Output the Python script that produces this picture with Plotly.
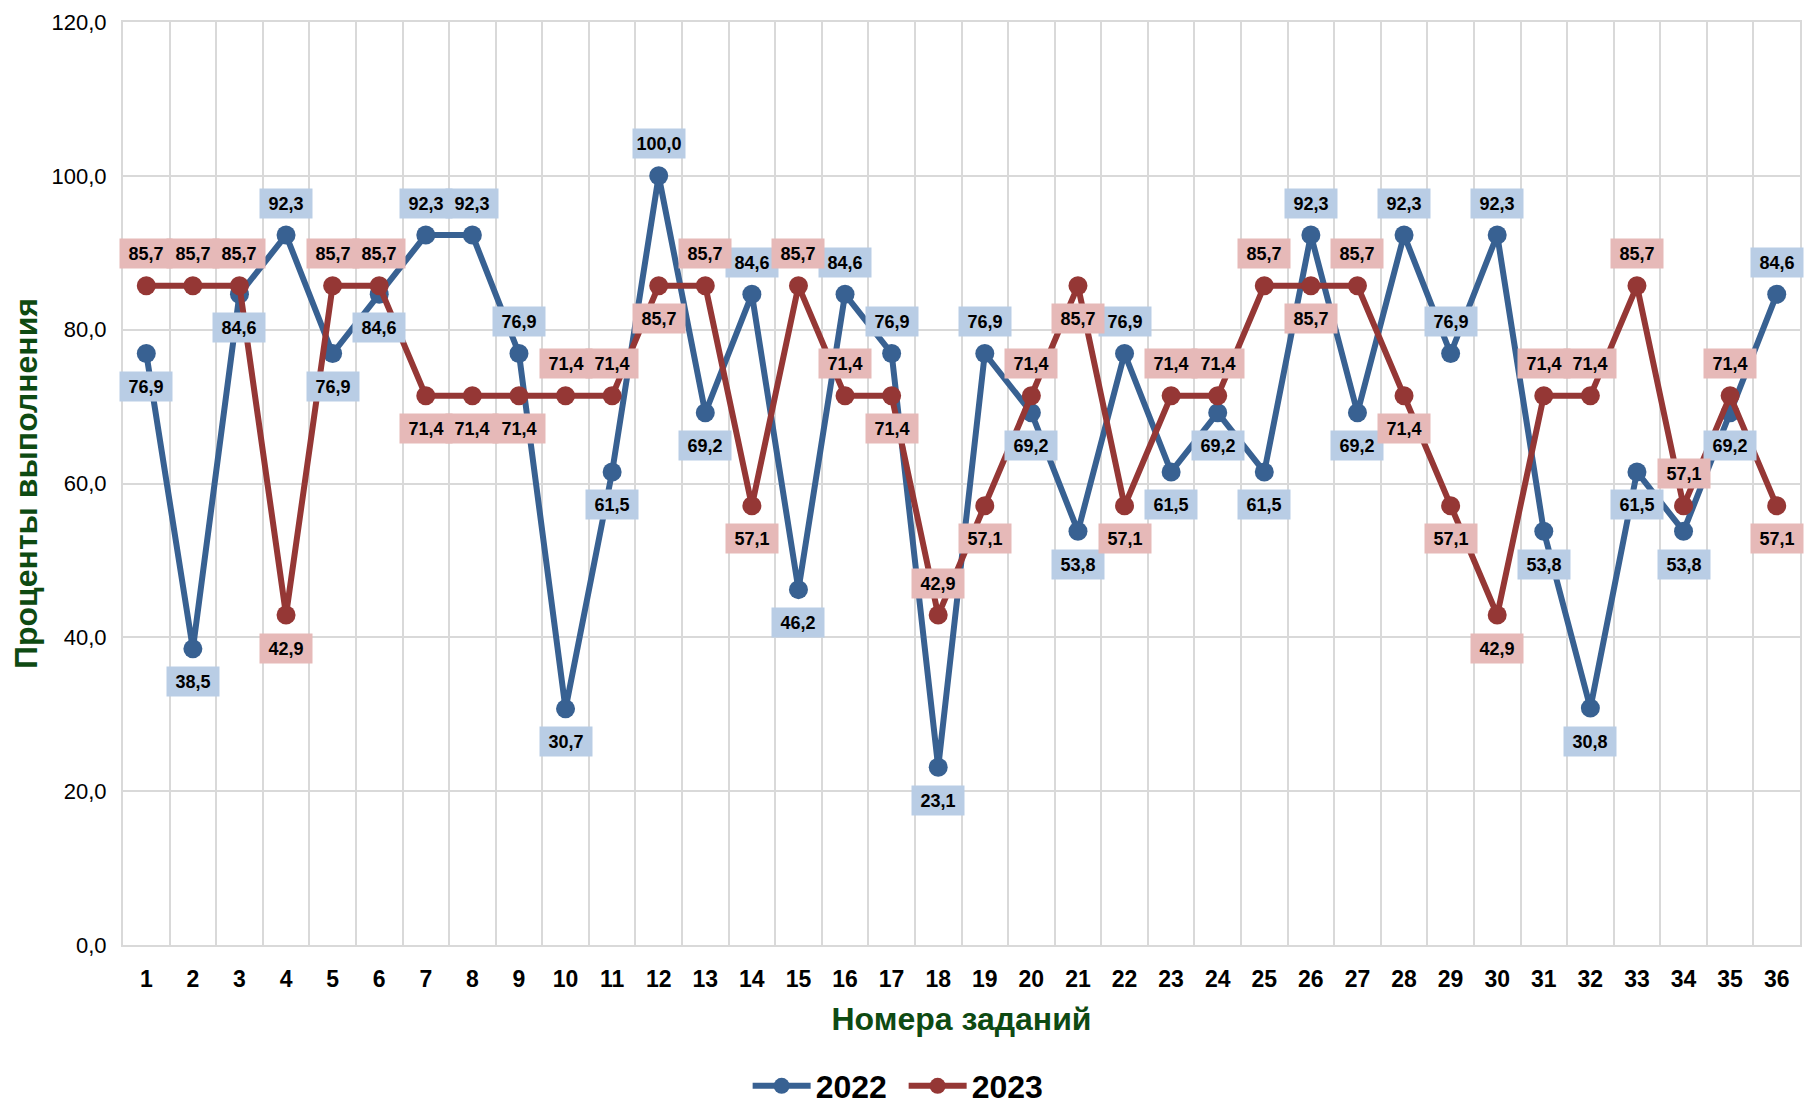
import plotly.graph_objects as go

tasks = list(range(1, 37))
y2022 = [76.9, 38.5, 84.6, 92.3, 76.9, 84.6, 92.3, 92.3, 76.9, 30.7, 61.5, 100.0,
         69.2, 84.6, 46.2, 84.6, 76.9, 23.1, 76.9, 69.2, 53.8, 76.9, 61.5, 69.2,
         61.5, 92.3, 69.2, 92.3, 76.9, 92.3, 53.8, 30.8, 61.5, 53.8, 69.2, 84.6]
y2023 = [85.7, 85.7, 85.7, 42.9, 85.7, 85.7, 71.4, 71.4, 71.4, 71.4, 71.4, 85.7,
         85.7, 57.1, 85.7, 71.4, 71.4, 42.9, 57.1, 71.4, 85.7, 57.1, 71.4, 71.4,
         85.7, 85.7, 85.7, 71.4, 57.1, 42.9, 71.4, 71.4, 85.7, 57.1, 71.4, 57.1]
# label placement: 'a' above the point, 'b' below
pos2022 = list("bbbabbaaabbababaababbabbbabaaabbbbba")
pos2023 = list("aaabaabbbaababaabababbaaababbbaaaaab")

C22 = "#386192"
C23 = "#953735"
BG22 = "#b9cde5"
BG23 = "#e6b9b8"
GRID = "#d9d9d9"
FONT = "Liberation Sans, Arial, sans-serif"

fig = go.Figure()
fig.add_trace(go.Scatter(x=tasks, y=y2022, name="2022", mode="lines+markers",
                         line=dict(color=C22, width=6),
                         marker=dict(color=C22, size=19)))
fig.add_trace(go.Scatter(x=tasks, y=y2023, name="2023", mode="lines+markers",
                         line=dict(color=C23, width=6),
                         marker=dict(color=C23, size=19)))

annotations = []
for ys, ps, bg in ((y2022, pos2022, BG22), (y2023, pos2023, BG23)):
    for x, v, p in zip(tasks, ys, ps):
        annotations.append(dict(
            x=x, y=v, xref="x", yref="y", showarrow=False,
            text=f"{v:.1f}".replace(".", ","),
            font=dict(family=FONT, size=18, color="black", weight="bold"),
            bgcolor=bg, width=52, height=29, borderpad=0,
            yshift=32 if p == "a" else -33,
        ))

fig.update_layout(
    width=1804, height=1104,
    paper_bgcolor="white", plot_bgcolor="white",
    margin=dict(l=123, r=4, t=22, b=159, autoexpand=False),
    separators=", ",
    font=dict(family=FONT, color="black"),
    annotations=annotations,
    showlegend=True,
    legend=dict(orientation="h", x=0.4655, xanchor="center",
                yref="container", y=0.0163, yanchor="middle",
                font=dict(family=FONT, size=32, color="black", weight="bold"),
                itemwidth=58, entrywidth=83, traceorder="normal"),
    xaxis=dict(
        range=[0.5, 36.5], tickmode="array", tickvals=tasks,
        ticktext=[str(t) for t in tasks],
        showgrid=False, zeroline=False, automargin=False,
        showline=True, mirror=True, linecolor=GRID, linewidth=2,
        ticks="outside", ticklen=12, tickcolor="rgba(0,0,0,0)",
        tickfont=dict(family=FONT, size=23, color="black", weight="bold"),
        minor=dict(tick0=0.5, dtick=1, showgrid=True, gridcolor=GRID, gridwidth=2),
        title=dict(text="Номера заданий", standoff=17,
                   font=dict(family=FONT, size=32, color="#0e4a12", weight="bold")),
    ),
    yaxis=dict(
        range=[0, 120], dtick=20, tickformat=".1f",
        showgrid=True, gridcolor=GRID, gridwidth=2, automargin=False,
        showline=True, mirror=True, linecolor=GRID, linewidth=2,
        zeroline=True, zerolinecolor=GRID, zerolinewidth=2,
        ticks="outside", ticklen=10, tickcolor="rgba(0,0,0,0)",
        tickfont=dict(family=FONT, size=22, color="black"),
        title=dict(text="Проценты выполнения", standoff=4,
                   font=dict(family=FONT, size=32, color="#0e4a12", weight="bold")),
    ),
)

fig.write_html("out.html", config={"displayModeBar": False},
               post_script="document.body.style.margin='0';document.body.style.overflow='hidden';")
